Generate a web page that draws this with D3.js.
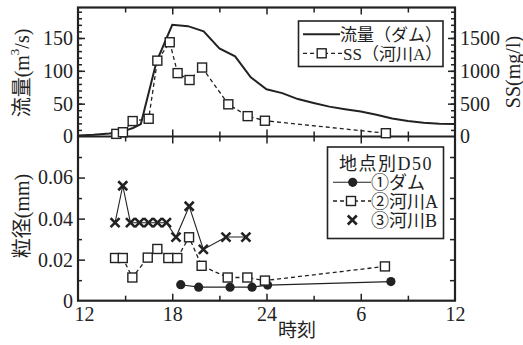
<!DOCTYPE html>
<html><head><meta charset="utf-8">
<script src="https://cdn.jsdelivr.net/npm/d3@7"></script>
<style>
html,body{margin:0;padding:0;background:#fff;}
svg{display:block;}
text{fill:#222;}
</style></head>
<body>
<svg id="chart" width="523" height="345"></svg>
<script>
// ---------- DATA ----------
const xTickValues = [12, 18, 24, 30, 36];
const xTickLabels = ["12", "18", "24", "6", "12"];
const xMinorTicks = [15, 21, 27, 33];

const flowHours = [12,13,14,14.5,15,15.5,16,17,18,19,20,21,22,23,24,25,26,27,28,29,30,31,32,33,34,35,36];
const flowValues = [1.5,2.5,4.5,6,9,13,19,114,170,168,160,134,122,90,72,66,57,51,45.5,41.5,38,33,27.5,23.5,21,19.5,19];

const ssHours = [14.44,14.86,15.48,16.5,17.05,17.84,18.34,19.1,19.9,21.57,22.8,23.9,31.6];
const ssValues = [40,65,235,270,1155,1435,965,860,1050,490,310,240,50];

const damHours = [18.54,19.68,21.68,23.08,24.07,31.92];
const damValues = [0.0078,0.0066,0.0066,0.0066,0.0076,0.0093];

const riverAHours = [14.36,14.85,15.46,16.44,17.05,17.75,18.32,19.07,19.87,21.53,22.78,23.9,31.54];
const riverAValues = [0.0208,0.0208,0.0113,0.021,0.0252,0.0208,0.0208,0.0309,0.017,0.0113,0.0113,0.0098,0.0167];

const riverBHours = [14.36,14.85,15.34,15.91,16.49,17.06,17.63,18.24,19.08,19.98,21.42,22.69];
const riverBValues = [0.038,0.056,0.038,0.038,0.038,0.038,0.038,0.031,0.046,0.025,0.031,0.031];

const flowTicks = [0, 50, 100, 150];
const ssTicks = [0, 500, 1000, 1500];
const d50Ticks = [0, 0.02, 0.04, 0.06];
const d50TickLabels = ["0", "0.02", "0.04", "0.06"];

// ---------- LAYOUT ----------
const L = 78, R = 455, T = 7.5, MID = 136.5, B = 300.7;
const INK = "#222";
const serif = "'Liberation Serif','Noto Sans CJK JP',serif";

const svg = d3.select("#chart");
svg.append("rect").attr("width",523).attr("height",345).attr("fill","#fff");

const x = d3.scaleLinear().domain([12,36]).range([L,R]);
const yFlow = d3.scaleLinear().domain([0,196.4]).range([MID,T]);
const ySS = d3.scaleLinear().domain([0,1964]).range([MID,T]);
const yD = d3.scaleLinear().domain([0,0.08]).range([B,MID]);

function styleAxis(g){
  g.select(".domain").remove();
  g.selectAll(".tick line").attr("stroke",INK).attr("stroke-width",1.5);
  g.selectAll("text").attr("font-family",serif).attr("font-size",20).attr("fill",INK);
}

// ---- X ticks ----
svg.append("g").attr("transform",`translate(0,${T})`)
  .call(d3.axisTop(x).tickValues(xMinorTicks).tickSize(-5).tickFormat("")).call(styleAxis);
svg.append("g").attr("transform",`translate(0,${T})`)
  .call(d3.axisTop(x).tickValues(xTickValues.slice(1,-1)).tickSize(-7).tickFormat("")).call(styleAxis);
svg.append("g").attr("transform",`translate(0,${MID})`)
  .call(d3.axisBottom(x).tickValues(xMinorTicks).tickSize(-5).tickFormat("")).call(styleAxis);
svg.append("g").attr("transform",`translate(0,${MID})`)
  .call(d3.axisBottom(x).tickValues(xTickValues.slice(1,-1)).tickSize(-7).tickFormat("")).call(styleAxis);
svg.append("g").attr("transform",`translate(0,${MID})`)
  .call(d3.axisTop(x).tickValues(xMinorTicks).tickSize(-5).tickFormat("")).call(styleAxis);
svg.append("g").attr("transform",`translate(0,${MID})`)
  .call(d3.axisTop(x).tickValues(xTickValues.slice(1,-1)).tickSize(-7).tickFormat("")).call(styleAxis);
svg.append("g").attr("transform",`translate(0,${B})`)
  .call(d3.axisBottom(x).tickValues(xMinorTicks).tickSize(-5).tickFormat("")).call(styleAxis);
const xb = svg.append("g").attr("transform",`translate(0,${B})`)
  .call(d3.axisBottom(x).tickValues(xTickValues).tickSize(-7).tickPadding(6)
    .tickFormat((d,i)=>xTickLabels[i])).call(styleAxis);
xb.selectAll(".tick").filter(d=>d===12||d===36).select("line").remove();
xb.selectAll(".tick").filter(d=>d===12).select("text").attr("dx",6);

// ---- Top panel Y ----
svg.append("g").attr("transform",`translate(${L},0)`)
  .call(d3.axisLeft(yFlow).tickValues(d3.range(10,196,10)).tickSize(-4).tickFormat("")).call(styleAxis);
const yl = svg.append("g").attr("transform",`translate(${L},0)`)
  .call(d3.axisLeft(yFlow).tickValues(flowTicks).tickSize(-7).tickPadding(5).tickFormat(d3.format("d"))).call(styleAxis);
yl.selectAll(".tick").filter(d=>d===0).select("line").remove();

svg.append("g").attr("transform",`translate(${R},0)`)
  .call(d3.axisRight(ySS).tickValues(d3.range(100,1964,100)).tickSize(-4).tickFormat("")).call(styleAxis);
const yr = svg.append("g").attr("transform",`translate(${R},0)`)
  .call(d3.axisRight(ySS).tickValues(ssTicks).tickSize(-7).tickPadding(5).tickFormat(d3.format("d"))).call(styleAxis);
yr.selectAll(".tick").filter(d=>d===0).select("line").remove();

// ---- Bottom panel Y ----
svg.append("g").attr("transform",`translate(${L},0)`)
  .call(d3.axisLeft(yD).tickValues([0.01,0.03,0.05,0.07]).tickSize(-4).tickFormat("")).call(styleAxis);
const yb = svg.append("g").attr("transform",`translate(${L},0)`)
  .call(d3.axisLeft(yD).tickValues(d50Ticks).tickSize(-7).tickPadding(5)
    .tickFormat((d,i)=>d50TickLabels[i])).call(styleAxis);
yb.selectAll(".tick").filter(d=>d===0).select("line").remove();
svg.append("g").attr("transform",`translate(${R},0)`)
  .call(d3.axisRight(yD).tickValues([0.01,0.02,0.03,0.04,0.05,0.06,0.07]).tickSize(-5).tickFormat("")).call(styleAxis);

// ---- Frame ----
svg.append("rect").attr("x",L).attr("y",T).attr("width",R-L).attr("height",B-T)
  .attr("fill","none").attr("stroke",INK).attr("stroke-width",2.2);
svg.append("line").attr("x1",L).attr("x2",R).attr("y1",MID).attr("y2",MID)
  .attr("stroke",INK).attr("stroke-width",2.2);

// ---- Marker helpers ----
function squares(g, xs, ys){
  g.selectAll(null).data(xs.map((h,i)=>[h,ys[i]])).join("rect")
    .attr("x",d=>x(d[0])-4.5).attr("y",d=>d[1]-4.5)
    .attr("width",9).attr("height",9)
    .attr("fill","#fff").attr("stroke",INK).attr("stroke-width",1.4);
}

// ---- Top panel series ----
const lineFlow = d3.line().x((d,i)=>x(flowHours[i])).y(d=>yFlow(d));
svg.append("path").attr("d",lineFlow(flowValues)).attr("fill","none")
  .attr("stroke",INK).attr("stroke-width",2);

const lineSS = d3.line().x((d,i)=>x(ssHours[i])).y(d=>ySS(d));
svg.append("path").attr("d",lineSS(ssValues)).attr("fill","none")
  .attr("stroke",INK).attr("stroke-width",1.3).attr("stroke-dasharray","4,3");
squares(svg.append("g"), ssHours, ssValues.map(v=>ySS(v)));

// ---- Bottom panel series ----
const lineDam = d3.line().x((d,i)=>x(damHours[i])).y(d=>yD(d));
svg.append("path").attr("d",lineDam(damValues)).attr("fill","none")
  .attr("stroke",INK).attr("stroke-width",1.1);
const lineA = d3.line().x((d,i)=>x(riverAHours[i])).y(d=>yD(d));
svg.append("path").attr("d",lineA(riverAValues)).attr("fill","none")
  .attr("stroke",INK).attr("stroke-width",1.3).attr("stroke-dasharray","4,3");
const lineB = d3.line().x((d,i)=>x(riverBHours[i])).y(d=>yD(d));
svg.append("path").attr("d",lineB(riverBValues)).attr("fill","none")
  .attr("stroke",INK).attr("stroke-width",1.1);

svg.append("g").selectAll("circle").data(damValues).join("circle")
  .attr("cx",(d,i)=>x(damHours[i])).attr("cy",d=>yD(d)).attr("r",4.6).attr("fill",INK);
squares(svg.append("g"), riverAHours, riverAValues.map(v=>yD(v)));
function cross(g,cx,cy){
  g.append("path").attr("d",`M${cx-4.5},${cy-4.5}L${cx+4.5},${cy+4.5}M${cx-4.5},${cy+4.5}L${cx+4.5},${cy-4.5}`)
    .attr("stroke",INK).attr("stroke-width",2.6).attr("fill","none");
}
const gB = svg.append("g");
riverBValues.forEach((v,i)=>cross(gB, x(riverBHours[i]), yD(v)));

// ---- Axis titles ----
svg.append("text").attr("transform","translate(22,73) rotate(-90)")
  .attr("text-anchor","middle").attr("dominant-baseline","central")
  .attr("font-family",serif).attr("font-size",20)
  .html('流量(m<tspan baseline-shift="super" font-size="13">3</tspan>/s)');
svg.append("text").attr("transform","translate(22,216) rotate(-90)")
  .attr("text-anchor","middle").attr("dominant-baseline","central")
  .attr("font-family",serif).attr("font-size",20).text("粒径(mm)");
svg.append("text").attr("transform","translate(513,72) rotate(-90)")
  .attr("text-anchor","middle").attr("dominant-baseline","central")
  .attr("font-family",serif).attr("font-size",20).text("SS(mg/l)");
svg.append("text").attr("x",297).attr("y",337).attr("text-anchor","middle")
  .attr("font-family",serif).attr("font-size",19).text("時刻");

// ---- Legend top ----
const lg1 = svg.append("g");
lg1.append("rect").attr("x",298.5).attr("y",21).attr("width",144.5).attr("height",45.5)
  .attr("fill","#fff").attr("stroke",INK).attr("stroke-width",1.6);
lg1.append("line").attr("x1",303).attr("x2",340).attr("y1",34.3).attr("y2",34.3)
  .attr("stroke",INK).attr("stroke-width",2);
lg1.append("text").attr("x",340).attr("y",40.5).attr("font-family",serif).attr("font-size",17).text("流量（ダム）");
lg1.append("line").attr("x1",303).attr("x2",342).attr("y1",53.3).attr("y2",53.3)
  .attr("stroke",INK).attr("stroke-width",1.3).attr("stroke-dasharray","4,3");
squares(lg1, [x.invert(321.7)], [53.3]);
lg1.append("text").attr("x",343).attr("y",59.5).attr("font-family",serif).attr("font-size",17).text("SS（河川A）");

// ---- Legend bottom ----
const lg2 = svg.append("g");
lg2.append("rect").attr("x",327.5).attr("y",147).attr("width",116).attr("height",91.5)
  .attr("fill","#fff").attr("stroke",INK).attr("stroke-width",1.6);
lg2.append("text").attr("x",339).attr("y",170).attr("font-family",serif).attr("font-size",18)
  .attr("letter-spacing",1.5).text("地点別D50");
lg2.append("line").attr("x1",333).attr("x2",371).attr("y1",182.3).attr("y2",182.3)
  .attr("stroke",INK).attr("stroke-width",1.1);
lg2.append("circle").attr("cx",352.7).attr("cy",182.3).attr("r",4.6).attr("fill",INK);
lg2.append("text").attr("x",371).attr("y",188.5).attr("font-family",serif).attr("font-size",18).text("①ダム");
lg2.append("line").attr("x1",333).attr("x2",371).attr("y1",201).attr("y2",201)
  .attr("stroke",INK).attr("stroke-width",1.3).attr("stroke-dasharray","4,3");
squares(lg2, [x.invert(351)], [201]);
lg2.append("text").attr("x",371).attr("y",207.5).attr("font-family",serif).attr("font-size",18).text("②河川A");
cross(lg2, 352.3, 220);
lg2.append("text").attr("x",371).attr("y",226.5).attr("font-family",serif).attr("font-size",18).text("③河川B");
</script>
</body></html>
